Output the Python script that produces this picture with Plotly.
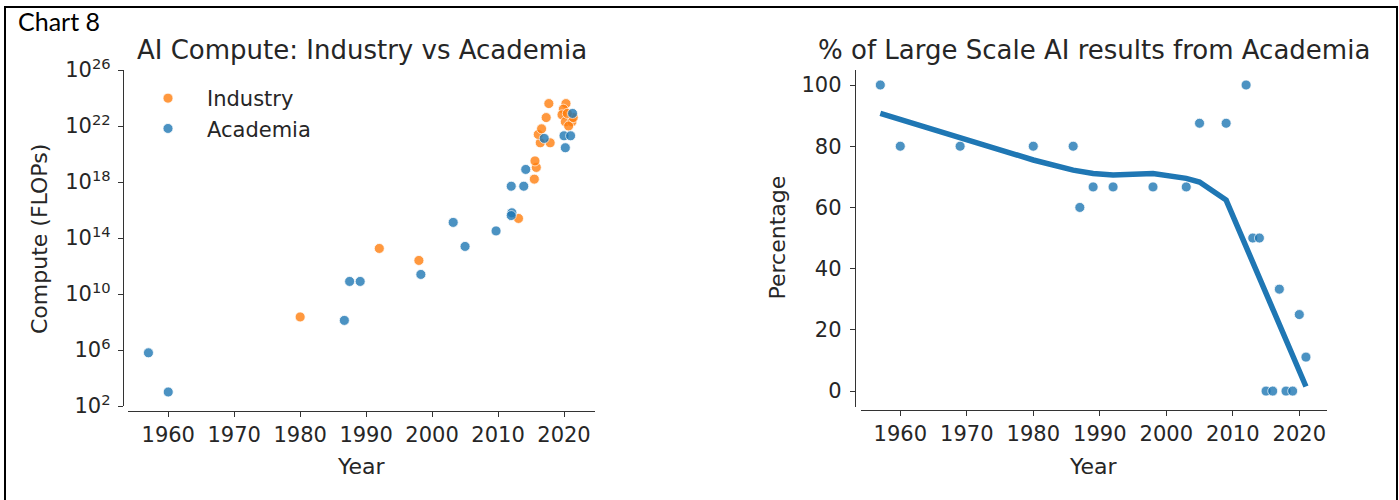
import plotly.graph_objects as go

W, H = 1399, 500

# --- AI compute by sector (year, FLOPs) ---
industry_year = [1980.0, 1992.0, 1998.0, 2013.1, 2015.5, 2015.8, 2015.6, 2016.4, 2017.9,
                 2016.1, 2016.6, 2017.3, 2017.7, 2020.3, 2019.9, 2019.7, 2020.2, 2021.2,
                 2020.7, 2021.4, 2020.5]
industry_flops = [2.3e8, 1.8e13, 2.5e12, 2.5e15, 1.6e18, 1.1e19, 3.2e19, 6.3e20, 6.3e20,
                  2.5e21, 6.3e21, 4.0e22, 4.0e23, 4.0e23, 1.6e23, 6.3e22, 2.0e22, 2.0e22,
                  1.0e22, 4.0e22, 7.9e22]

academia_year = [1957.0, 1960.0, 1986.7, 1987.5, 1989.1, 1998.3, 2003.2, 2005.0, 2009.7,
                 2012.1, 2012.0, 2012.0, 2013.9, 2014.2, 2017.0, 2020.0, 2021.0, 2020.2,
                 2021.3]
academia_flops = [6.3e5, 1.0e3, 1.3e8, 7.9e10, 7.9e10, 2.5e11, 1.3e15, 2.5e13, 3.2e14,
                  6.3e15, 4.0e15, 5.0e17, 5.0e17, 7.9e18, 1.3e21, 2.0e21, 2.0e21, 2.8e20,
                  7.9e22]

# --- share of large-scale results from academia ---
share_year = [1957, 1960, 1969, 1980, 1986, 1987, 1989, 1992, 1998, 2003, 2005, 2009,
              2012, 2013, 2014, 2015, 2016, 2017, 2018, 2019, 2020, 2021]
share_pct = [100, 80, 80, 80, 80, 60, 66.7, 66.7, 66.7, 66.7, 87.5, 87.5,
             100, 50, 50, 0, 0, 33.3, 0, 0, 25, 11.1]
# smoothed (lowess) trend at the same years
trend_pct = [90.7, 88.7, 82.7, 75.5, 72.2, 71.8, 71.1, 70.6, 71.1, 69.5, 68.3, 62.4,
             47.2, 42.1, 37.1, 32.0, 26.9, 21.8, 16.8, 11.7, 6.6, 1.5]

year_ticks = [1960, 1970, 1980, 1990, 2000, 2010, 2020]
flops_ticks = [1e2, 1e6, 1e10, 1e14, 1e18, 1e22, 1e26]
flops_ticktext = ["10<sup>2</sup>", "10<sup>6</sup>", "10<sup>10</sup>", "10<sup>14</sup>",
                  "10<sup>18</sup>", "10<sup>22</sup>", "10<sup>26</sup>"]
pct_ticks = [0, 20, 40, 60, 80, 100]

ORANGE = "#ff7f0e"
BLUE = "#1f77b4"
FONT = "DejaVu Sans"
INK = "#262626"


def px(x):
    return x / W


def py(y):
    return 1 - y / H


fig = go.Figure()

marker_common = dict(size=10, opacity=0.8, line=dict(color="white", width=0.8))
fig.add_trace(go.Scatter(x=industry_year, y=industry_flops, mode="markers", name="Industry",
                         marker=dict(color=ORANGE, **marker_common), xaxis="x", yaxis="y"))
fig.add_trace(go.Scatter(x=academia_year, y=academia_flops, mode="markers", name="Academia",
                         marker=dict(color=BLUE, **marker_common), xaxis="x", yaxis="y"))

fig.add_trace(go.Scatter(x=share_year, y=share_pct, mode="markers", showlegend=False,
                         marker=dict(color=BLUE, **marker_common), xaxis="x2", yaxis="y2"))
fig.add_trace(go.Scatter(x=share_year, y=trend_pct, mode="lines", showlegend=False,
                         line=dict(color=BLUE, width=5.5), xaxis="x2", yaxis="y2"))

axis_common = dict(
    showgrid=False, zeroline=False, showline=True, linecolor="#333", linewidth=1.4,
    ticks="outside", ticklen=5, tickwidth=1.2, tickcolor="#333",
    tickfont=dict(family=FONT, size=21, color=INK), anchor="free", automargin=False,
)

fig.update_layout(
    width=W, height=H, autosize=False,
    margin=dict(l=0, r=0, t=0, b=0),
    paper_bgcolor="white", plot_bgcolor="white",
    font=dict(family=FONT, color=INK),
    xaxis=dict(domain=[px(128), px(595)], range=[1953.9, 2024.7], tickvals=year_ticks,
               position=py(411), **axis_common),
    yaxis=dict(domain=[py(406), py(70)], type="log", range=[2, 26], tickvals=flops_ticks,
               ticktext=flops_ticktext, position=px(123), ticklabelstandoff=3, **axis_common),
    xaxis2=dict(domain=[px(860.7), px(1326.7)], range=[1954.05, 2024.12], tickvals=year_ticks,
                position=py(410), **axis_common),
    yaxis2=dict(domain=[py(406.7), py(70)], range=[-5.1, 104.9], tickvals=pct_ticks,
                position=px(855), ticklabelstandoff=4, **axis_common),
    legend=dict(x=px(129), y=py(78), xanchor="left", yanchor="top",
                bgcolor="rgba(0,0,0,0)", itemwidth=68,
                font=dict(family=FONT, size=21, color=INK)),
    showlegend=True,
)

annotations = [
    dict(text="Chart 8", x=px(16), y=py(21), xanchor="left", yanchor="middle",
         font=dict(family="Lato", size=25, color="black")),
    dict(text="AI Compute: Industry vs Academia", x=px(361.5), y=py(50),
         xanchor="center", yanchor="middle", font=dict(family=FONT, size=26, color=INK)),
    dict(text="% of Large Scale AI results from Academia", x=px(1093.7), y=py(50),
         xanchor="center", yanchor="middle", font=dict(family=FONT, size=26, color=INK)),
    dict(text="Year", x=px(361.5), y=py(466), xanchor="center", yanchor="middle",
         font=dict(family=FONT, size=22, color=INK)),
    dict(text="Year", x=px(1093.7), y=py(466), xanchor="center", yanchor="middle",
         font=dict(family=FONT, size=22, color=INK)),
    dict(text="Compute (FLOPs)", x=px(39), y=py(239), xanchor="center", yanchor="middle",
         textangle=-90, font=dict(family=FONT, size=22, color=INK)),
    dict(text="Percentage", x=px(777), y=py(237.5), xanchor="center", yanchor="middle",
         textangle=-90, font=dict(family=FONT, size=22, color=INK)),
]
for a in annotations:
    a.update(xref="paper", yref="paper", showarrow=False)
fig.update_layout(annotations=annotations)

# outer frame around the whole figure
fig.add_shape(type="rect", xref="paper", yref="paper",
              x0=px(5), x1=px(1397), y0=py(503), y1=py(7),
              line=dict(color="black", width=2), fillcolor="rgba(0,0,0,0)", layer="above")

fig.write_html("out.html")
